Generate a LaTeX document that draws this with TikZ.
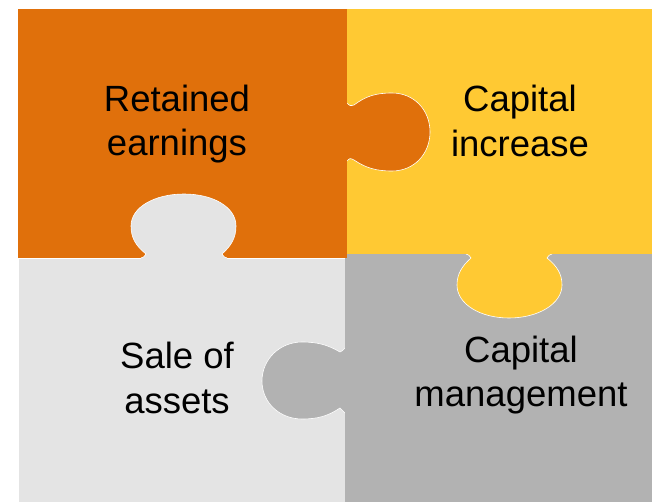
\documentclass[tikz,border=0pt]{standalone}
\usepackage{fontspec}
\setmainfont{Liberation Sans}
\definecolor{piecea}{HTML}{E0700B}
\definecolor{pieceb}{HTML}{FFC933}
\definecolor{piecec}{HTML}{E4E4E4}
\definecolor{pieced}{HTML}{B2B2B2}
\begin{document}
\begin{tikzpicture}[x=1pt,y=-1pt,
    piece/.style={draw=white,line width=0.6pt},
    label/.style={align=center,font=\fontsize{36.5}{44.5}\selectfont}]
      \useasboundingbox (0,0) rectangle (652,502);
      % the four pieces
      \fill[pieced] (345,254) rectangle (652,502);
      \fill[piecec] (19,259) rectangle (345,502);
      \fill[pieceb] (347,9) rectangle (652,254);
      \fill[piecea] (17.5,9) rectangle (347,258);
      % the tabs
      \begin{scope}[piece]
        \filldraw[fill=piecea] (347,103) .. controls (350,106) .. (354,105)
          .. controls (366,96) and (376,93) .. (392,93)
          .. controls (414,93) and (430,110) .. (430,132)
          .. controls (430,154) and (414,171) .. (392,171)
          .. controls (376,171) and (366,168) .. (354,160)
          .. controls (350,158) .. (347,161);
        \fill[piecea] (347,103) -- (347,161) -- (345,161) -- (345,103) -- cycle;
        \filldraw[fill=piecec] (141,258) .. controls (144,257) .. (146,254)
          .. controls (136,246) and (131,238) .. (131,226)
          .. controls (131,207) and (155,194) .. (184,194)
          .. controls (213,194) and (236,207) .. (236,226)
          .. controls (236,238) and (231,246) .. (222,254)
          .. controls (224,257) .. (227,258);
        \fill[piecec] (141,258) -- (227,258) -- (227,261) -- (141,261) -- cycle;
        \filldraw[fill=pieceb] (466,254) .. controls (469,255) .. (471,258)
          .. controls (462,266) and (457,274) .. (457,285)
          .. controls (457,304) and (480,318) .. (509,318)
          .. controls (538,318) and (562,304) .. (562,285)
          .. controls (562,274) and (557,266) .. (547,258)
          .. controls (549,255) .. (552,254);
        \fill[pieceb] (466,254) -- (552,254) -- (552,251) -- (466,251) -- cycle;
        \filldraw[fill=pieced] (345,348) .. controls (342,351) .. (340,352)
          .. controls (328,345) and (318,342) .. (302,342)
          .. controls (280,342) and (262,359) .. (262,381)
          .. controls (262,403) and (280,419) .. (302,419)
          .. controls (318,419) and (328,416) .. (340,408)
          .. controls (342,410) .. (345,413);
        \fill[pieced] (345,348) -- (345,413) -- (348,413) -- (348,348) -- cycle;
      \end{scope}
      % texts
      \node[label] (retained) at (177,124) {Retained\\earnings};
      \node[label] (increase) at (520,121) {Capital\\increase};
      \node[label] (sale) at (177,378) {Sale of\\assets};
      \node[label] (management) at (521,375) {Capital\\management};
    \end{tikzpicture}
\end{document}
